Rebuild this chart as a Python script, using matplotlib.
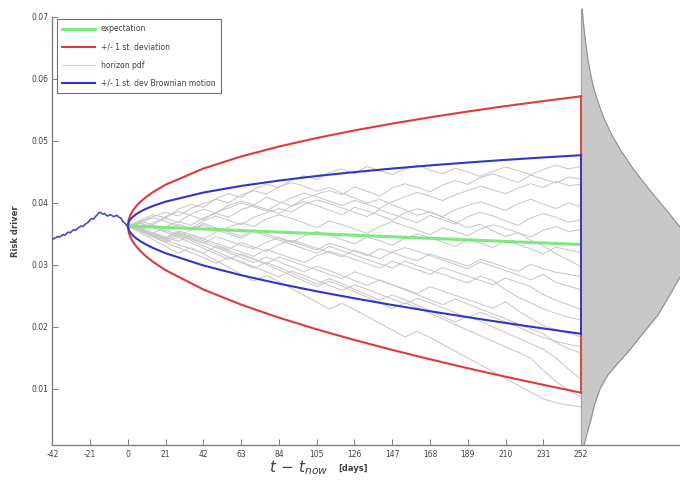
import matplotlib
matplotlib.use("Agg")
import matplotlib.pyplot as plt
import numpy as np

# ---------------- data ----------------
x_ticks = [-42, -21, 0, 21, 42, 63, 84, 105, 126, 147, 168, 189, 210, 231, 252]
y_ticks = [0.01, 0.02, 0.03, 0.04, 0.05, 0.06, 0.07]

hist_days = list(range(-42, 1))
hist_vals = [.0341, .0343, .0344, .0346, .0345, .0347, .0349, .0348, .0351, .0353,
             .0352, .0355, .0357, .0356, .0359, .0361, .0363, .0362, .0365, .0367,
             .0369, .0373, .0375, .0374, .0378, .0381, .0385, .0384, .0382, .0383,
             .0380, .0379, .0381, .0380, .0378, .0379, .0380, .0377, .0376, .0371,
             .0368, .0365, .0363]

band_days = [0, 0.5, 1, 2, 3, 5, 7, 10, 14, 21, 42, 63, 84, 105, 126, 147, 168, 189,
             210, 231, 252]
expectation = [.03630, .03630, .03629, .03628, .03626, .03624, .03622, .03618, .03613,
               .03605, .03580, .03555, .03530, .03505, .03480, .03455, .03430, .03405,
               .03380, .03355, .03330]
red_upper = [.03630, .03736, .03780, .03841, .03887, .03961, .04020, .04094, .04176,
             .04295, .04556, .04750, .04910, .05048, .05170, .05280, .05381, .05475,
             .05562, .05643, .05720]
red_lower = [.03630, .03524, .03478, .03415, .03365, .03287, .03224, .03142, .03050,
             .02915, .02604, .02360, .02150, .01962, .01790, .01630, .01479, .01335,
             .01198, .01067, .00940]
blue_upper = [.03630, .03694, .03720, .03756, .03783, .03827, .03862, .03905, .03952,
              .04021, .04168, .04275, .04361, .04435, .04498, .04555, .04606, .04652,
              .04695, .04734, .04770]
blue_lower = [.03630, .03566, .03538, .03500, .03469, .03421, .03382, .03331, .03274,
              .03189, .02992, .02835, .02699, .02575, .02462, .02355, .02254, .02158,
              .02065, .01976, .01890]

# simulated paths (values in units of 1e-4), one value every 7 days from 0 to 252
path_days = list(range(0, 253, 7))
paths_e4 = [
    [363,372,381,376,390,398,393,407,415,409,422,430,425,437,444,438,449,455,447,459,452,446,455,461,453,447,456,450,443,451,458,452,446,454,461,455,459],
    [363,356,368,375,369,382,390,384,396,403,397,409,402,395,407,414,420,413,426,419,411,424,431,425,418,429,436,430,441,447,440,433,445,439,432,442,438],
    [363,371,365,378,386,380,373,385,392,400,394,387,399,408,416,410,403,396,404,398,391,402,410,417,411,404,413,420,427,421,415,424,431,425,435,428,430],
    [363,358,351,362,370,364,376,383,377,389,396,390,383,395,402,396,388,381,393,387,380,372,384,391,385,378,389,396,402,395,388,399,406,398,391,400,394],
    [363,368,361,354,366,359,371,379,372,365,377,384,391,385,398,405,399,392,385,378,389,382,375,368,380,373,366,378,385,379,371,364,376,383,377,369,373],
    [363,357,350,344,355,349,342,353,361,368,362,374,381,375,368,360,371,365,358,351,362,370,363,356,349,360,354,347,358,365,359,352,345,356,362,354,357],
    [363,369,376,370,363,356,367,360,353,346,357,350,343,336,347,354,348,341,334,345,339,332,343,350,344,337,330,341,335,328,339,333,326,318,329,324,320],
    [363,370,378,385,379,391,399,406,400,413,420,414,426,433,427,419,425,416,408,400,406,397,389,380,386,377,369,360,366,355,346,352,340,331,318,308,297],
    [363,357,364,356,349,342,335,346,339,332,326,337,344,338,331,324,335,329,322,315,326,320,313,307,318,311,305,298,309,303,296,290,301,294,288,285,281],
    [363,356,349,342,353,346,339,332,325,336,329,322,333,340,334,327,320,313,324,317,310,321,328,322,315,308,301,294,305,298,291,284,276,285,272,266,260],
    [363,359,352,345,338,349,342,335,328,321,314,325,318,311,304,315,322,316,309,302,295,306,299,292,285,296,289,282,275,268,279,272,265,252,243,236,228],
    [363,367,360,353,346,357,364,357,350,343,354,347,340,333,326,319,330,323,316,309,302,295,306,299,292,285,278,271,282,275,260,248,239,229,222,216,211],
    [363,355,347,340,333,326,319,330,323,316,309,302,313,306,299,292,285,278,289,282,275,268,261,254,265,258,251,244,237,230,241,226,214,202,196,190,184],
    [363,354,345,336,328,320,312,303,312,305,297,289,281,290,283,275,267,259,268,261,253,245,237,246,239,231,223,215,224,216,208,200,191,183,177,172,168],
    [363,359,351,343,351,344,336,328,320,312,304,313,305,297,289,298,291,283,275,267,276,268,260,252,244,236,245,237,229,221,213,205,197,189,175,165,158],
    [363,356,348,340,348,340,331,322,313,304,295,304,296,287,278,269,278,270,261,252,243,252,244,235,226,217,208,217,209,200,191,182,173,164,150,132,115],
    [363,355,346,337,345,336,327,318,309,318,310,301,292,283,274,265,274,266,257,248,239,230,239,231,222,213,204,195,186,177,168,159,150,130,112,98,87],
    [363,352,341,330,319,328,318,307,296,285,274,283,273,262,251,240,229,238,228,217,206,195,184,193,183,172,161,150,139,128,117,106,95,84,78,74,71],
]

# horizon pdf: risk-driver value and drawn width (in days)
pdf_vals = [0.0713, 0.0690, 0.0660, 0.0630, 0.0603, 0.0580, 0.0558, 0.0536, 0.0510,
            0.0484, 0.0455, 0.0424, 0.0390, 0.0359, 0.0340, 0.0325, 0.0305, 0.0284,
            0.0250, 0.0220, 0.0190, 0.0160, 0.0140, 0.0123, 0.0100, 0.0075, 0.0052,
            0.0030, 0.0010]
pdf_width = [0.6, 1.3, 2.5, 3.9, 5.6, 7.5, 10.0, 12.8, 17.0, 22.3, 29.0, 37.3, 47.0,
             55.7, 60.0, 61.0, 59.5, 55.7, 49.0, 42.9, 34.5, 26.2, 20.0, 15.0, 10.5,
             7.5, 5.6, 3.5, 1.7]
horizon = 252

# ---------------- style ----------------
C_GREEN = '#7fe87f'
C_RED = '#e03a3a'
C_BLUE = '#3434c8'
C_GRAY = '#c8c8c8'
C_AX = '#808080'
C_TXT = '#404040'

fig = plt.figure(figsize=(6.8, 4.84), dpi=100)
ax = fig.add_axes([0.077, 0.081, 0.923, 0.884])

# paths
for i, p in enumerate(paths_e4):
    ax.plot(path_days, np.array(p) / 1e4, color=C_GRAY, lw=0.75, zorder=1,
            label='horizon pdf' if i == 0 else None)

# pdf
pv = np.array(pdf_vals)
pw = horizon + np.array(pdf_width)
ax.fill_betweenx(pv, horizon, pw, color='#c8c8c8', lw=0, zorder=2, clip_on=False)
ax.plot(pw, pv, color='#909090', lw=0.8, zorder=2, clip_on=False)
ax.plot([horizon, horizon], [pdf_vals[0], pdf_vals[-1]], color='#a0a0a0', lw=0.8,
        zorder=2, clip_on=False)

# expectation
ax.plot(band_days, expectation, color=C_GREEN, lw=2.2, zorder=3, label='expectation')

# red band
ax.plot(band_days, red_upper, color=C_RED, lw=1.5, zorder=4, label='+/- 1 st. deviation')
ax.plot(band_days, red_lower, color=C_RED, lw=1.5, zorder=4)
ax.plot([horizon, horizon], [red_lower[-1], red_upper[-1]], color=C_RED, lw=1.3, zorder=4)

# blue band
ax.plot(band_days, blue_upper, color=C_BLUE, lw=1.5, zorder=5,
        label='+/- 1 st. dev Brownian motion')
ax.plot(band_days, blue_lower, color=C_BLUE, lw=1.5, zorder=5)
ax.plot([horizon, horizon], [blue_lower[-1], blue_upper[-1]], color=C_BLUE, lw=1.3, zorder=5)

# history
ax.plot(hist_days, hist_vals, color='#4848d0', lw=1.2, zorder=5)

ax.set_xlim(-42, 307)
ax.set_ylim(0.001, 0.07)
ax.set_xticks(x_ticks)
ax.set_xticklabels([str(t) for t in x_ticks])
ax.set_yticks(y_ticks)
ax.set_yticklabels(['%.2f' % t for t in y_ticks])
ax.tick_params(direction='in', length=4, width=0.7, colors=C_AX, labelcolor=C_TXT,
               labelsize=5.5)
ax.tick_params(axis='y', pad=3)
ax.tick_params(axis='x', pad=4)
for s in ['top', 'right']:
    ax.spines[s].set_visible(False)
for s in ['left', 'bottom']:
    ax.spines[s].set_color(C_AX)
    ax.spines[s].set_linewidth(1.0)

ax.set_ylabel('Risk driver', fontsize=6, color=C_TXT, fontweight='bold', labelpad=8)

fig.text(0.440, 0.034, r'$t\,-\,t_{now}$', fontsize=11, color=C_TXT, ha='center', va='center')
fig.text(0.497, 0.031, '[days]', fontsize=6, color=C_TXT, ha='left', va='center',
         fontweight='bold')

# legend in reference order
h, l = ax.get_legend_handles_labels()
order = ['expectation', '+/- 1 st. deviation', 'horizon pdf', '+/- 1 st. dev Brownian motion']
hh = [h[l.index(o)] for o in order]
leg = ax.legend(hh, order, loc='upper left', bbox_to_anchor=(0.084, 0.961),
                bbox_transform=fig.transFigure, borderaxespad=0, fontsize=5.5,
                labelspacing=1.2, handlelength=4.2, handletextpad=0.8, borderpad=0.7,
                fancybox=False, framealpha=1, edgecolor='#707070')
leg.get_frame().set_linewidth(0.8)
for t in leg.get_texts():
    t.set_color(C_TXT)

fig.savefig('out.png', dpi=100)
